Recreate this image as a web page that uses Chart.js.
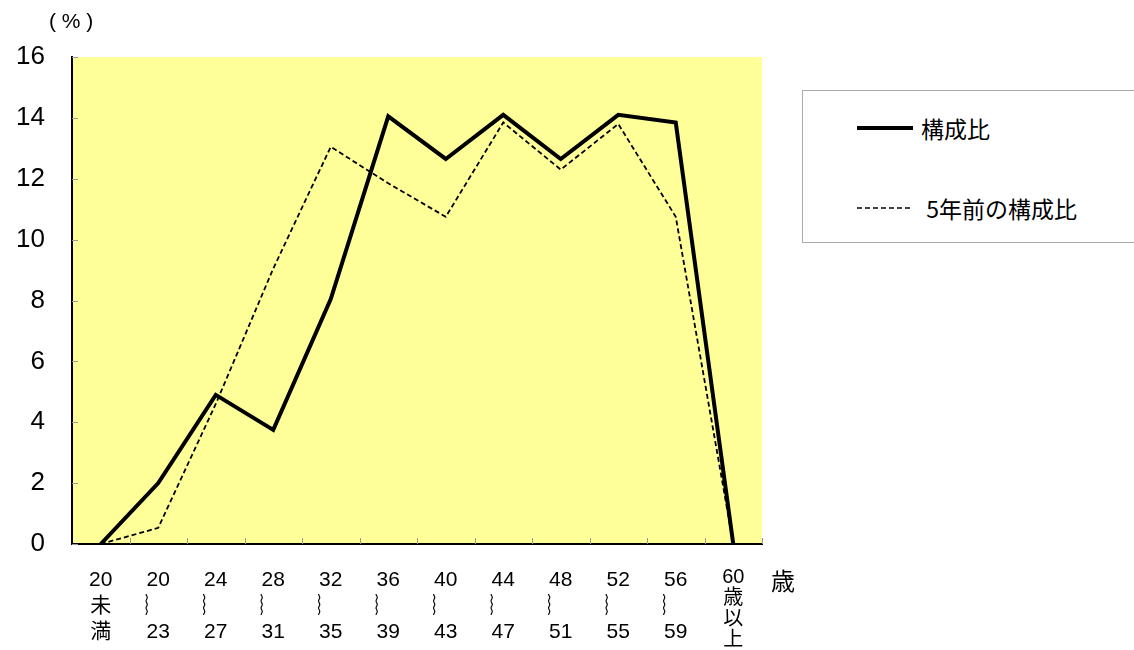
<!DOCTYPE html>
<html>
<head>
<meta charset="utf-8">
<script src="https://cdn.jsdelivr.net/npm/chart.js@4"></script>
<style>
  body { margin: 0; background: #fff; }
  #wrap { position: relative; width: 1134px; height: 650px; }
  .note { position: absolute; font-family: "Liberation Sans", "Noto Sans CJK JP", sans-serif; color: #000; white-space: pre; }
  #legend {
    position: absolute; left: 802px; top: 90px; width: 340px; height: 153px;
    border: 1px solid #aaa; background: #fff; box-sizing: border-box;
    font-family: "Noto Sans CJK JP", sans-serif; font-size: 23px;
  }
  #legend .row { position: absolute; left: 52px; display: flex; align-items: center; }
  #legend svg { margin-right: 6px; }
</style>
</head>
<body>
<div id="wrap">
  <canvas id="chart"></canvas>
  <div class="note" style="left:49px;top:9px;font-size:21px;">( % )</div>
  <div class="note" style="left:771px;top:562px;font-size:24px;font-family:'Noto Sans CJK JP',sans-serif;">歳</div>
  <div id="legend">
    <div class="row" style="top:20px;">
      <svg width="60" height="10"><line x1="2" y1="5" x2="58" y2="5" stroke="#000" stroke-width="4"/></svg>
      <span>構成比</span>
    </div>
    <div class="row" style="top:100px;">
      <svg width="60" height="10"><line x1="2" y1="5" x2="58" y2="5" stroke="#000" stroke-width="1.5" stroke-dasharray="5,3"/></svg>
      <span>&nbsp;5年前の構成比</span>
    </div>
  </div>
</div>
<script>
// age groups (x axis)
const ageLabels = [
  ['20', '未', '満'],
  ['20', '︴ ', '23'],
  ['24', '︴ ', '27'],
  ['28', '︴ ', '31'],
  ['32', '︴ ', '35'],
  ['36', '︴ ', '39'],
  ['40', '︴ ', '43'],
  ['44', '︴ ', '47'],
  ['48', '︴ ', '51'],
  ['52', '︴ ', '55'],
  ['56', '︴ ', '59'],
  ['60', '歳', '以', '上']
];

// 構成比 (%)
const current = [0, 2.0, 4.9, 3.75, 8.05, 14.05, 12.65, 14.1, 12.65, 14.1, 13.85, 0];
// 5年前の構成比 (%)
const previous = [0, 0.53, 4.6, 9.05, 13.05, 11.85, 10.75, 13.85, 12.3, 13.8, 10.75, 0];

const yMin = 0;
const yMax = 16;
const yStep = 2;

// yellow plot area + short inside tick marks
const plotArea = {
  id: 'plotArea',
  beforeDraw(chart) {
    const { ctx, chartArea: a } = chart;
    ctx.save();
    ctx.fillStyle = '#ffff99';
    ctx.fillRect(a.left, a.top, a.right - a.left, a.bottom - a.top);
    ctx.restore();
  },
  beforeDatasetsDraw(chart) {
    const { ctx, chartArea: a, scales } = chart;
    ctx.save();
    ctx.strokeStyle = '#999';
    ctx.lineWidth = 1;
    ctx.beginPath();
    scales.y.ticks.forEach((t, i) => {
      const y = Math.round(scales.y.getPixelForTick(i)) + 0.5;
      ctx.moveTo(a.left, y);
      ctx.lineTo(a.left + 6, y);
    });
    const n = scales.x.ticks.length;
    const half = (scales.x.getPixelForTick(1) - scales.x.getPixelForTick(0)) / 2;
    for (let i = 0; i < n; i++) {
      const x = Math.round(scales.x.getPixelForTick(i) + half) + 0.5;
      ctx.moveTo(x, a.bottom);
      ctx.lineTo(x, a.bottom - 6);
    }
    ctx.stroke();
    ctx.restore();
  }
};

new Chart(document.getElementById('chart'), {
  type: 'line',
  data: {
    labels: ageLabels,
    datasets: [
      {
        label: '構成比',
        data: current,
        borderColor: '#000',
        borderWidth: 4,
        pointRadius: 0,
        tension: 0
      },
      {
        label: '5年前の構成比',
        data: previous,
        borderColor: '#000',
        borderWidth: 1.8,
        borderDash: [5, 3],
        pointRadius: 0,
        tension: 0
      }
    ]
  },
  plugins: [plotArea],
  options: {
    responsive: true,
    maintainAspectRatio: false,
    animation: false,
    layout: { padding: { top: 57, right: 372, left: 0, bottom: 0 } },
    plugins: {
      legend: { display: false },
      tooltip: { enabled: false }
    },
    scales: {
      x: {
        offset: true,
        grid: { display: false, drawTicks: false },
        border: { color: '#000', width: 2 },
        afterFit(scale) { scale.height = 106; },
        ticks: {
          padding: 23,
          color: '#000',
          maxRotation: 0,
          autoSkip: false,
          font(ctx) {
            const last = ctx.index === ageLabels.length - 1;
            return {
              family: '"Liberation Sans", "Noto Sans CJK JP", sans-serif',
              size: last ? 20 : 21,
              lineHeight: last ? '21px' : '26px'
            };
          }
        }
      },
      y: {
        min: yMin,
        max: yMax,
        grid: { display: false, drawTicks: false },
        border: { color: '#000', width: 2 },
        afterFit(scale) { scale.width = 72; },
        ticks: {
          stepSize: yStep,
          padding: 27,
          color: '#000',
          font: { family: '"Liberation Sans", sans-serif', size: 26 }
        }
      }
    }
  }
});
</script>
</body>
</html>
